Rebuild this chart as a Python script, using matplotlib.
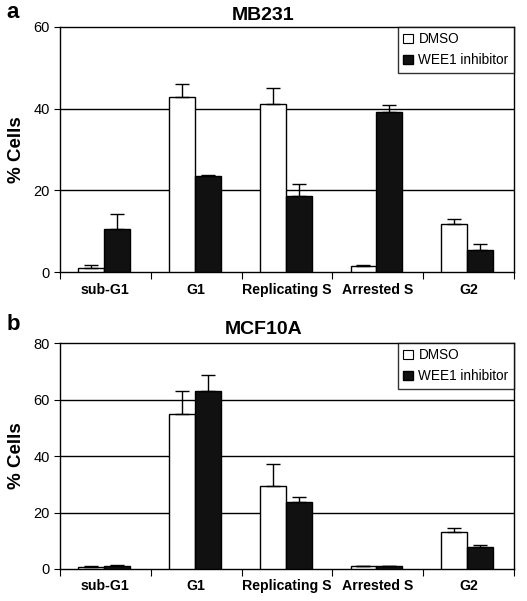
import matplotlib
matplotlib.use("Agg")
import matplotlib.pyplot as plt
import numpy as np
from matplotlib.patches import Patch

categories = ["sub-G1", "G1", "Replicating S", "Arrested S", "G2"]
series_names = ["DMSO", "WEE1 inhibitor"]

mb231_dmso = [1.0, 42.9, 41.2, 1.4, 11.8]
mb231_dmso_err = [0.7, 3.1, 3.8, 0.2, 1.1]
mb231_wee1 = [10.5, 23.4, 18.7, 39.3, 5.5]
mb231_wee1_err = [3.7, 0.4, 2.9, 1.6, 1.4]

mcf_dmso = [0.6, 54.9, 29.5, 0.9, 13.1]
mcf_dmso_err = [0.3, 8.2, 7.6, 0.1, 1.3]
mcf_wee1 = [0.9, 63.1, 23.8, 0.9, 7.8]
mcf_wee1_err = [0.4, 5.4, 1.7, 0.1, 0.8]

W, H = 527, 601
fig = plt.figure(figsize=(W / 100, H / 100), dpi=100)
plt.rcParams['font.family'] = ['Liberation Sans', 'DejaVu Sans']


def panel(rect, dmso, dmso_err, wee, wee_err, ymax, yticks, title, letter, title_y, letter_y):
    ax = fig.add_axes(rect)
    x = np.arange(len(categories))
    bw = 0.285
    ax.bar(x - bw / 2 - 0.015, dmso, bw, color="white", edgecolor="black", linewidth=1, zorder=3)
    ax.bar(x + bw / 2 - 0.015, wee, bw, color="#111111", edgecolor="black", linewidth=1, zorder=3)
    ax.errorbar(x - bw / 2 - 0.015, dmso, yerr=[np.zeros(len(dmso)), dmso_err], fmt="none",
                ecolor="black", elinewidth=1, capsize=5, capthick=1, zorder=4)
    ax.errorbar(x + bw / 2 - 0.015, wee, yerr=[np.zeros(len(wee)), wee_err], fmt="none",
                ecolor="black", elinewidth=1, capsize=5, capthick=1, zorder=4)
    ax.set_xlim(-0.5, len(categories) - 0.5)
    ax.set_ylim(0, ymax)
    ax.set_yticks(yticks)
    ax.set_yticklabels([str(t) for t in yticks], fontsize=10.5)
    for t in yticks[1:-1]:
        ax.axhline(t, color="black", linewidth=1, zorder=1)
    ax.set_xticks(np.arange(len(categories) + 1) - 0.5)
    ax.set_xticklabels([])
    ax.tick_params(axis="x", length=5, direction="out")
    ax.tick_params(axis="y", length=4, direction="out")
    for i, c in enumerate(categories):
        ax.text(i, -0.075 * ymax, c, ha="center", va="center", fontsize=10.2,
                fontweight="bold", transform=ax.transData, clip_on=False)
    for s in ax.spines.values():
        s.set_linewidth(1)
    ax.set_ylabel("% Cells", fontsize=13.5, fontweight="bold", labelpad=6)
    handles = [Patch(facecolor="white", edgecolor="black", linewidth=0.8),
               Patch(facecolor="#111111", edgecolor="black")]
    leg = ax.legend(handles, series_names, loc="upper right", bbox_to_anchor=(1.0, 1.0),
                    fontsize=9.8, frameon=True, fancybox=False, edgecolor="black",
                    handlelength=0.7, handleheight=0.7, handletextpad=0.4,
                    borderpad=0.4, labelspacing=0.5, borderaxespad=0)
    leg.get_frame().set_linewidth(1)
    fig.text(0.5, title_y, title, ha="center", va="center", fontsize=14, fontweight="bold")
    fig.text(0.012, letter_y, letter, ha="left", va="center", fontsize=16, fontweight="bold")
    return ax


panel([60 / W, 1 - 272 / H, 454 / W, 245 / H], mb231_dmso, mb231_dmso_err, mb231_wee1,
      mb231_wee1_err, 60, [0, 20, 40, 60], "MB231", "a", 1 - 15 / H, 1 - 13 / H)
panel([60 / W, 1 - 569 / H, 454 / W, 226 / H], mcf_dmso, mcf_dmso_err, mcf_wee1,
      mcf_wee1_err, 80, [0, 20, 40, 60, 80], "MCF10A", "b", 1 - 329 / H, 1 - 324 / H)

fig.savefig("out.png", dpi=100)
